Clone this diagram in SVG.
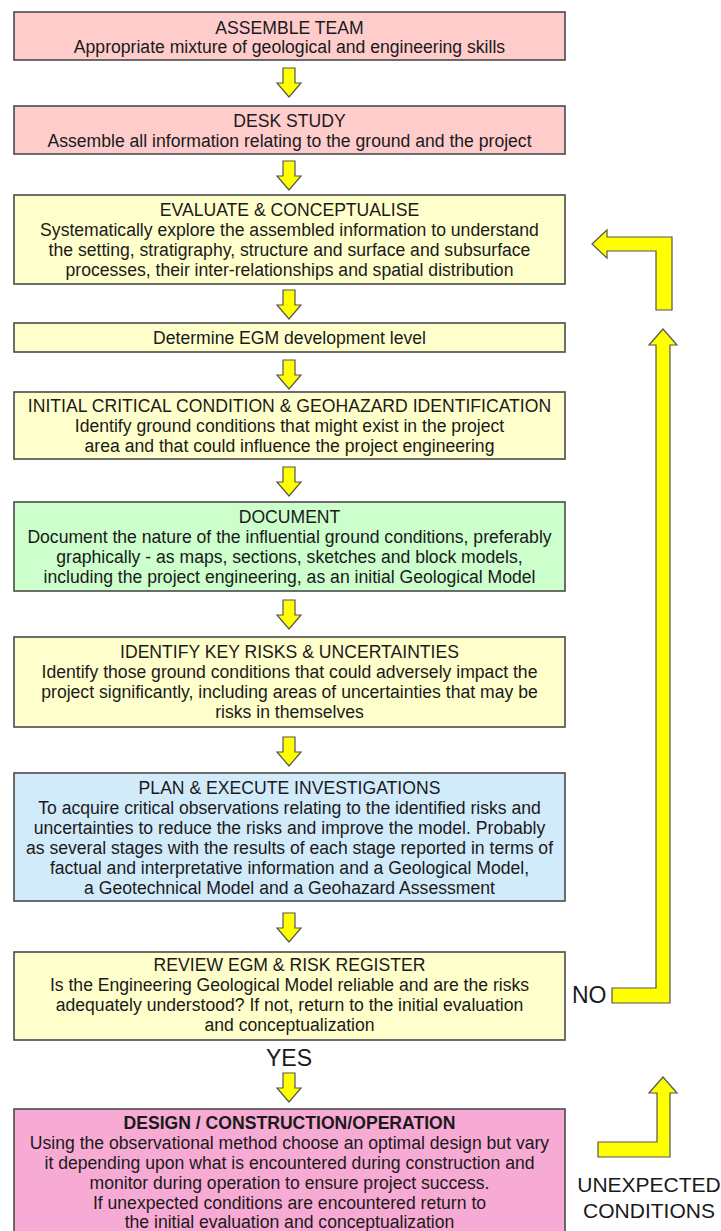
<svg xmlns="http://www.w3.org/2000/svg" xmlns:xlink="http://www.w3.org/1999/xlink" width="721" height="1231" viewBox="0 0 721 1231">
<style>
.box{stroke:#4a4a4a;stroke-width:1.6}
.pink{fill:#ffcccc}
.yel{fill:#ffffcc}
.grn{fill:#ccffcc}
.blu{fill:#d2ebfb}
.mag{fill:#f7aad4}
text{font-family:"Liberation Sans",Arial,sans-serif;font-size:17.6px;fill:#1a1a1a;text-anchor:middle}
.b{font-weight:bold}
.big{font-size:23px}
.mid{font-size:21px}
.arr{fill:#ffff00;stroke:#555;stroke-width:1.2;stroke-linejoin:miter}
</style>
<defs>
<polygon id="dn" points="-6,0 6,0 6,15 12,15 0,29 -12,15 -6,15"/>
</defs>
<rect width="721" height="1231" fill="#ffffff"/>

<g id="connectors">
<use xlink:href="#dn" href="#dn" class="arr" x="289" y="68"/>
<use xlink:href="#dn" href="#dn" class="arr" x="289" y="161"/>
<use xlink:href="#dn" href="#dn" class="arr" x="289" y="290"/>
<use xlink:href="#dn" href="#dn" class="arr" x="289" y="360"/>
<use xlink:href="#dn" href="#dn" class="arr" x="289" y="467"/>
<use xlink:href="#dn" href="#dn" class="arr" x="289" y="600"/>
<use xlink:href="#dn" href="#dn" class="arr" x="289" y="737"/>
<use xlink:href="#dn" href="#dn" class="arr" x="289" y="913"/>
<use xlink:href="#dn" href="#dn" class="arr" x="289" y="1073"/>
<polygon class="arr" points="592,244 607,230 607,237 672,237 672,310 656,310 656,251 607,251 607,258"/>
<polygon class="arr" points="612,988 656,988 656,345 649,345 663,329 677,345 670,345 670,1003 612,1003"/>
<polygon class="arr" points="598,1142 657,1142 657,1093 649,1093 663,1077 677,1093 670,1093 670,1157 598,1157"/>
<text class="big" x="289" y="1066">YES</text>
<text class="big" x="572" y="1003" style="text-anchor:start">NO</text>
<text class="mid" x="649" y="1192">UNEXPECTED</text>
<text class="mid" x="649" y="1218">CONDITIONS</text>
</g>

<g id="assemble-team">
<rect class="box pink" x="14" y="12" width="551" height="48"/>
<text x="289.5" y="34">ASSEMBLE TEAM</text>
<text x="289.5" y="53">Appropriate mixture of geological and engineering skills</text>
</g>

<g id="desk-study">
<rect class="box pink" x="14" y="106" width="551" height="48"/>
<text x="289.5" y="127">DESK STUDY</text>
<text x="289.5" y="147">Assemble all information relating to the ground and the project</text>
</g>

<g id="evaluate">
<rect class="box yel" x="14" y="195" width="551" height="89"/>
<text x="289.5" y="216">EVALUATE &amp; CONCEPTUALISE</text>
<text x="289.5" y="236">Systematically explore the assembled information to understand</text>
<text x="289.5" y="256">the setting, stratigraphy, structure and surface and subsurface</text>
<text x="289.5" y="276">processes, their inter-relationships and spatial distribution</text>
</g>

<g id="egm-level">
<rect class="box yel" x="14" y="323" width="551" height="29"/>
<text x="289.5" y="344">Determine EGM development level</text>
</g>

<g id="initial-critical">
<rect class="box yel" x="14" y="392" width="551" height="67"/>
<text x="289.5" y="412">INITIAL CRITICAL CONDITION &amp; GEOHAZARD IDENTIFICATION</text>
<text x="289.5" y="432">Identify ground conditions that might exist in the project</text>
<text x="289.5" y="452">area and that could influence the project engineering</text>
</g>

<g id="document">
<rect class="box grn" x="14" y="502" width="551" height="89"/>
<text x="289.5" y="523">DOCUMENT</text>
<text x="289.5" y="543">Document the nature of the influential ground conditions, preferably</text>
<text x="289.5" y="563">graphically - as maps, sections, sketches and block models,</text>
<text x="289.5" y="583">including the project engineering, as an initial Geological Model</text>
</g>

<g id="key-risks">
<rect class="box yel" x="14" y="637" width="551" height="90"/>
<text x="289.5" y="658">IDENTIFY KEY RISKS &amp; UNCERTAINTIES</text>
<text x="289.5" y="678">Identify those ground conditions that could adversely impact the</text>
<text x="289.5" y="698">project significantly, including areas of uncertainties that may be</text>
<text x="289.5" y="718">risks in themselves</text>
</g>

<g id="investigations">
<rect class="box blu" x="14" y="773" width="551" height="128"/>
<text x="289.5" y="794">PLAN &amp; EXECUTE INVESTIGATIONS</text>
<text x="289.5" y="814">To acquire critical observations relating to the identified risks and</text>
<text x="289.5" y="834">uncertainties to reduce the risks and improve the model. Probably</text>
<text x="289.5" y="854">as several stages with the results of each stage reported in terms of</text>
<text x="289.5" y="874">factual and interpretative information and a Geological Model,</text>
<text x="289.5" y="894">a Geotechnical Model and a Geohazard Assessment</text>
</g>

<g id="review">
<rect class="box yel" x="14" y="952" width="551" height="88"/>
<text x="289.5" y="971">REVIEW EGM &amp; RISK REGISTER</text>
<text x="289.5" y="991">Is the Engineering Geological Model reliable and are the risks</text>
<text x="289.5" y="1011">adequately understood? If not, return to the initial evaluation</text>
<text x="289.5" y="1031">and conceptualization</text>
</g>

<g id="design">
<rect class="box mag" x="14" y="1109" width="551" height="130"/>
<text class="b" x="289.5" y="1129">DESIGN / CONSTRUCTION/OPERATION</text>
<text x="289.5" y="1149">Using the observational method choose an optimal design but vary</text>
<text x="289.5" y="1169">it depending upon what is encountered during construction and</text>
<text x="289.5" y="1189">monitor during operation to ensure project success.</text>
<text x="289.5" y="1209">If unexpected conditions are encountered return to</text>
<text x="289.5" y="1228">the initial evaluation and conceptualization</text>
</g>
</svg>
